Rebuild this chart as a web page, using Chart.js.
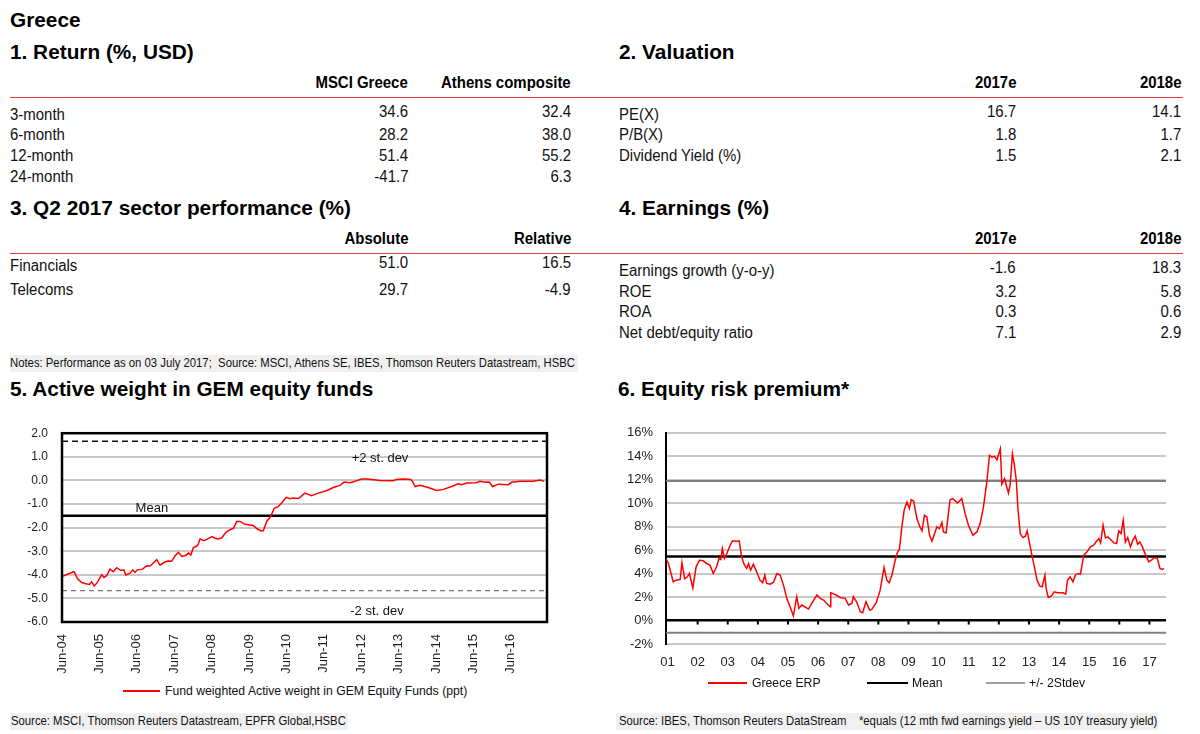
<!DOCTYPE html>
<html><head><meta charset="utf-8">
<script src="https://cdn.jsdelivr.net/npm/chart.js@4.4.1/dist/chart.umd.min.js"></script>
<style>
html,body{margin:0;padding:0;background:#fff;}
body{width:1200px;height:734px;position:relative;overflow:hidden;font-family:"Liberation Sans",Arial,sans-serif;color:#111;}
.t{position:absolute;white-space:pre;line-height:20px;height:20px;}
.title{font-weight:bold;font-size:20.8px;color:#000;}
.hd{font-weight:bold;font-size:16px;color:#000;}
.bd{font-size:16px;color:#111;}
.sm{font-size:13px;color:#111;}
.lg{font-size:13px;color:#111;}
.rule{position:absolute;height:1px;background:#e0403c;}
.box{position:absolute;background:#f0f0f0;}
.ln{position:absolute;height:2px;}
canvas{position:absolute;}
</style></head><body>
<div class="box" style="left:10px;top:355px;width:568px;height:17px"></div>
<div class="box" style="left:10px;top:713px;width:338px;height:17px"></div>
<div class="box" style="left:616px;top:713px;width:542px;height:17px"></div>
<canvas id="c5" width="560" height="263" style="left:0;top:412px"></canvas>
<canvas id="c6" width="600" height="264" style="left:600px;top:412px"></canvas>
<script>
// ---------------- DATA ----------------
const returnCols = ['MSCI Greece', 'Athens composite'];
const returnRows = ['3-month', '6-month', '12-month', '24-month'];
const returnMSCI = ['34.6', '28.2', '51.4', '-41.7'];
const returnAthens = ['32.4', '38.0', '55.2', '6.3'];

const valuationCols = ['2017e', '2018e'];
const valuationRows = ['PE(X)', 'P/B(X)', 'Dividend Yield (%)'];
const valuation2017 = ['16.7', '1.8', '1.5'];
const valuation2018 = ['14.1', '1.7', '2.1'];

const sectorCols = ['Absolute', 'Relative'];
const sectorRows = ['Financials', 'Telecoms'];
const sectorAbs = ['51.0', '29.7'];
const sectorRel = ['16.5', '-4.9'];

const earnCols = ['2017e', '2018e'];
const earnRows = ['Earnings growth (y-o-y)', 'ROE', 'ROA', 'Net debt/equity ratio'];
const earn2017 = ['-1.6', '3.2', '0.3', '7.1'];
const earn2018 = ['18.3', '5.8', '0.6', '2.9'];

// Chart 5: active weight (x in decimal years)
const activeTickLabels = ['Jun-04','Jun-05','Jun-06','Jun-07','Jun-08','Jun-09','Jun-10','Jun-11','Jun-12','Jun-13','Jun-14','Jun-15','Jun-16'];
const activeX = [2004.43,2004.70,2004.74,2004.83,2004.94,2005.06,2005.15,2005.21,2005.28,2005.37,
 2005.48,2005.54,2005.61,2005.70,2005.79,2005.88,2005.99,2006.07,2006.12,2006.24,
 2006.31,2006.37,2006.43,2006.57,2006.68,2006.77,2006.84,2006.95,2007.04,2007.14,
 2007.24,2007.35,2007.44,2007.53,2007.62,2007.72,2007.80,2007.86,2007.93,2008.04,
 2008.11,2008.21,2008.31,2008.43,2008.51,2008.60,2008.69,2008.80,2008.91,2009.00,
 2009.09,2009.18,2009.31,2009.44,2009.53,2009.64,2009.73,2009.80,2009.89,2010.00,
 2010.09,2010.20,2010.29,2010.41,2010.51,2010.60,2010.74,2010.91,2011.09,2011.27,
 2011.49,2011.67,2011.85,2011.96,2012.12,2012.25,2012.43,2012.58,2012.92,2013.28,
 2013.35,2013.54,2013.74,2013.79,2013.86,2013.99,2014.21,2014.43,2014.61,2014.84,
 2015.01,2015.10,2015.24,2015.50,2015.59,2015.73,2015.84,2015.93,2016.08,2016.35,
 2016.44,2016.66,2017.02,2017.20,2017.31];
const activeY = [-4.06,-3.89,-3.87,-4.16,-4.33,-4.38,-4.41,-4.30,-4.47,-4.30,
 -3.99,-4.11,-4.04,-3.76,-3.87,-3.70,-3.82,-3.79,-4.01,-3.93,
 -3.79,-3.90,-3.79,-3.76,-3.62,-3.63,-3.53,-3.36,-3.59,-3.48,
 -3.42,-3.43,-3.19,-3.05,-3.22,-3.18,-3.08,-3.16,-2.85,-2.77,
 -2.48,-2.55,-2.48,-2.38,-2.45,-2.48,-2.43,-2.20,-2.09,-2.03,
 -1.74,-1.74,-1.86,-1.89,-1.91,-2.06,-2.13,-2.13,-1.74,-1.52,
 -1.18,-1.11,-0.96,-0.72,-0.78,-0.75,-0.77,-0.54,-0.65,-0.54,
 -0.44,-0.30,-0.21,-0.07,-0.10,-0.04,0.06,0.06,0.00,-0.01,
 0.04,0.06,0.04,-0.04,-0.26,-0.21,-0.30,-0.43,-0.38,-0.26,
 -0.14,-0.18,-0.11,-0.10,-0.04,-0.08,-0.07,-0.26,-0.16,-0.18,
 -0.08,-0.04,-0.04,0.02,-0.04];
const activeMean = -1.5, activePlus2 = 1.66, activeMinus2 = -4.67;
const activeRange = [2004.417, 2017.385];
const activeNotes = [{text:'+2 st. dev', x:2012.92, y:0.94}, {text:'Mean', x:2006.82, y:-1.19}, {text:'-2 st. dev', x:2012.84, y:-5.57}];

// Chart 6: equity risk premium (%)
const erpTickLabels = ['01','02','03','04','05','06','07','08','09','10','11','12','13','14','15','16','17'];
const erpX = [2000.95,2001.03,2001.11,2001.19,2001.28,2001.42,2001.48,2001.57,2001.66,2001.73,
 2001.84,2001.95,2002.06,2002.19,2002.30,2002.41,2002.52,2002.63,2002.71,2002.77,
 2002.82,2002.89,2002.97,2003.08,2003.16,2003.30,2003.38,2003.46,2003.54,2003.63,
 2003.69,2003.76,2003.85,2003.96,2004.07,2004.16,2004.23,2004.29,2004.41,2004.52,
 2004.63,2004.74,2004.85,2004.96,2005.07,2005.18,2005.29,2005.36,2005.46,2005.68,
 2005.79,2005.96,2006.07,2006.18,2006.29,2006.40,2006.42,2006.56,2006.73,2006.90,
 2007.01,2007.12,2007.17,2007.28,2007.40,2007.48,2007.59,2007.71,2007.78,2007.93,
 2008.06,2008.19,2008.28,2008.36,2008.45,2008.56,2008.64,2008.70,2008.78,2008.86,
 2008.95,2009.03,2009.09,2009.17,2009.28,2009.37,2009.45,2009.53,2009.61,2009.70,
 2009.78,2009.86,2009.94,2010.03,2010.11,2010.16,2010.25,2010.38,2010.47,2010.63,
 2010.77,2010.88,2010.99,2011.14,2011.27,2011.38,2011.49,2011.60,2011.69,2011.77,
 2011.85,2011.94,2011.99,2012.05,2012.10,2012.19,2012.27,2012.32,2012.38,2012.45,
 2012.51,2012.58,2012.63,2012.71,2012.80,2012.88,2012.94,2013.01,2013.10,2013.19,
 2013.27,2013.36,2013.44,2013.53,2013.57,2013.64,2013.74,2013.84,2013.95,2014.13,
 2014.22,2014.28,2014.37,2014.46,2014.54,2014.63,2014.71,2014.82,2014.93,2015.04,
 2015.15,2015.24,2015.32,2015.38,2015.46,2015.54,2015.62,2015.71,2015.82,2015.91,
 2015.98,2016.06,2016.13,2016.20,2016.28,2016.37,2016.45,2016.53,2016.61,2016.68,
 2016.76,2016.83,2016.90,2016.98,2017.06,2017.17,2017.26,2017.35,2017.43,2017.48];
const erpY = [5.29,4.86,4.07,3.30,3.44,3.50,4.92,3.56,3.73,4.01,
 2.79,4.58,5.14,5.09,4.86,4.72,4.01,4.58,5.29,5.20,
 6.14,5.29,5.71,6.42,6.79,6.76,6.79,5.43,4.80,4.44,
 4.86,4.29,4.80,4.15,3.44,3.22,3.87,3.16,3.10,3.27,
 4.01,3.87,3.02,1.89,1.18,0.38,2.03,1.04,1.32,0.98,
 1.46,2.17,1.89,1.75,1.46,1.18,2.37,2.23,1.97,1.89,
 1.32,1.46,2.03,1.60,0.75,0.67,1.60,0.89,0.95,1.52,
 2.59,4.52,3.44,3.22,3.87,5.14,5.85,6.05,7.98,9.45,
 10.10,9.54,10.30,10.19,8.69,8.04,7.64,8.97,8.83,7.27,
 6.76,7.36,7.98,7.84,8.35,7.55,7.47,10.30,10.39,10.02,
 10.39,9.11,8.12,7.27,7.55,8.26,9.68,11.80,14.07,13.93,
 13.99,13.70,14.16,14.64,11.61,12.09,11.32,10.87,11.66,14.21,
 13.36,11.95,9.68,7.41,7.07,7.19,7.64,6.70,5.57,4.44,
 3.44,2.93,2.88,3.87,2.74,1.97,2.08,2.45,2.37,2.37,
 2.25,3.44,3.73,3.30,3.87,4.01,3.95,5.57,5.85,6.28,
 6.42,6.76,6.99,6.62,8.12,7.04,7.13,6.90,6.62,6.56,
 7.64,7.41,8.55,6.70,7.07,6.28,6.85,7.19,6.50,6.70,
 6.33,5.85,5.43,5.00,5.14,5.37,5.29,4.44,4.35,4.44];
const erpMean = 5.45, erpPlus2 = 11.9, erpMinus2 = -1.05;
const erpRange = [2000.95, 2017.55];

// ---------------- LAYOUT HELPERS ----------------
const FONT = '"Liberation Sans", Arial, sans-serif';
const SX = 0.935;
function T(x, y, str, cls, align, scale) {
  const d = document.createElement('div');
  d.className = 't ' + cls;
  d.textContent = str;
  d.style.top = (y - 10) + 'px';
  if (align === 'right') { d.style.right = (1200 - x) + 'px'; d.style.transformOrigin = 'right center'; }
  else { d.style.left = x + 'px'; d.style.transformOrigin = 'left center'; }
  if (scale) d.style.transform = 'scaleX(' + scale + ')';
  document.body.appendChild(d);
}
function rule(x1, x2, y) {
  const d = document.createElement('div'); d.className = 'rule';
  d.style.left = x1 + 'px'; d.style.width = (x2 - x1) + 'px'; d.style.top = y + 'px';
  document.body.appendChild(d);
}
function legendLine(x1, x2, y, color) {
  const d = document.createElement('div'); d.className = 'ln';
  d.style.left = x1 + 'px'; d.style.width = (x2 - x1) + 'px'; d.style.top = (y - 1) + 'px'; d.style.background = color;
  document.body.appendChild(d);
}
function table(labelX, colRights, headY, rowYs, cols, rows, v1, v2) {
  T(colRights[0], headY, cols[0], 'hd', 'right', SX);
  T(colRights[1], headY, cols[1], 'hd', 'right', SX);
  rows.forEach((r, i) => {
    T(labelX, rowYs[i], r, 'bd', 'left', SX);
    const vy = rowYs[i] - (i === 0 ? 3 : 0);
    T(colRights[0], vy, v1[i], 'bd', 'right', SX);
    T(colRights[1], vy, v2[i], 'bd', 'right', SX);
  });
}

T(10, 20, 'Greece', 'title', 'left');
T(10, 52, '1. Return (%, USD)', 'title', 'left');
T(619, 52, '2. Valuation', 'title', 'left');
rule(10, 1183, 97);
table(10, [408, 571], 83, [115, 135, 156, 177], returnCols, returnRows, returnMSCI, returnAthens);
table(619, [1016, 1181], 83, [115, 135, 156], valuationCols, valuationRows, valuation2017, valuation2018);

T(10, 208, '3. Q2 2017 sector performance (%)', 'title', 'left');
T(619, 208, '4. Earnings (%)', 'title', 'left');
rule(10, 1183, 253);
table(10, [408, 571], 239, [266, 290], sectorCols, sectorRows, sectorAbs, sectorRel);
table(619, [1016, 1181], 239, [271, 291.5, 312, 333], earnCols, earnRows, earn2017, earn2018);
T(10, 363, 'Notes: Performance as on 03 July 2017;  Source: MSCI, Athens SE, IBES, Thomson Reuters Datastream, HSBC', 'sm', 'left', 0.87);

T(10, 389, '5. Active weight in GEM equity funds', 'title', 'left');
T(618, 389, '6. Equity risk premium*', 'title', 'left');

legendLine(123, 160, 691, '#ff0000');
T(165, 691, 'Fund weighted Active weight in GEM Equity Funds (ppt)', 'lg', 'left', 0.94);
T(11, 721, 'Source: MSCI, Thomson Reuters Datastream, EPFR Global,HSBC', 'sm', 'left', 0.87);

legendLine(708, 747, 683, '#ff0000');
T(752, 683, 'Greece ERP', 'lg', 'left', 0.94);
legendLine(867, 908, 683, '#000000');
T(912, 683, 'Mean', 'lg', 'left', 0.94);
legendLine(986, 1025, 683, '#a0a0a0');
T(1029, 683, '+/- 2Stdev', 'lg', 'left', 0.94);
T(619, 721, 'Source: IBES, Thomson Reuters DataStream    *equals (12 mth fwd earnings yield \u2013 US 10Y treasury yield)', 'sm', 'left', 0.87);

// ---------------- CHARTS ----------------
Chart.defaults.font.family = FONT;
Chart.defaults.color = '#222';

const hline = (range, v) => [{x: range[0], y: v}, {x: range[1], y: v}];

const frame5 = {
  id: 'frame5',
  afterDatasetsDraw(chart) {
    const {ctx, chartArea: a, scales} = chart;
    ctx.save();
    ctx.strokeStyle = '#000'; ctx.lineWidth = 2.5;
    ctx.strokeRect(a.left, a.top, a.right - a.left, a.bottom - a.top);
    ctx.fillStyle = '#111'; ctx.font = '13px ' + FONT;
    ctx.textAlign = 'center'; ctx.textBaseline = 'middle';
    activeNotes.forEach(n => ctx.fillText(n.text, scales.x.getPixelForValue(n.x), scales.y.getPixelForValue(n.y)));
    ctx.restore();
  }
};

new Chart(document.getElementById('c5'), {
  type: 'line',
  data: { datasets: [
    { label: 'Fund weighted Active weight in GEM Equity Funds (ppt)', data: activeX.map((x, i) => ({x, y: activeY[i]})),
      borderColor: '#ff0000', borderWidth: 1.5, pointRadius: 0, tension: 0 },
    { label: 'Mean', data: hline(activeRange, activeMean), borderColor: '#000', borderWidth: 2.5, pointRadius: 0 },
    { label: '+2 st. dev', data: hline(activeRange, activePlus2), borderColor: '#111', borderWidth: 1.4, borderDash: [6, 4], pointRadius: 0 },
    { label: '-2 st. dev', data: hline(activeRange, activeMinus2), borderColor: '#777', borderWidth: 1.4, borderDash: [5, 4], pointRadius: 0 }
  ]},
  options: {
    responsive: false, animation: false, devicePixelRatio: 1,
    layout: { padding: { top: 4, right: 13, left: 0, bottom: 0 } },
    plugins: { legend: { display: false }, tooltip: { enabled: false } },
    scales: {
      x: { type: 'linear', min: activeRange[0], max: activeRange[1],
        afterBuildTicks: s => { s.ticks = activeTickLabels.map(l => ({ value: 2000 + parseInt(l.slice(4), 10) + 5 / 12 })); },
        afterFit: s => { s.height = 53; },
        grid: { display: false }, border: { display: false },
        ticks: { autoSkip: false, minRotation: 90, maxRotation: 90, padding: 4, color: '#222', font: { size: 13 },
          callback: (v, i) => activeTickLabels[i] } },
      y: { min: -6, max: 2, afterFit: s => { s.width = 62; },
        grid: { color: '#c8c8c8', lineWidth: 2, drawTicks: false }, border: { display: false },
        ticks: { stepSize: 1, padding: 14, color: '#222', font: { size: 12 }, callback: v => v.toFixed(1) } }
    }
  },
  plugins: [frame5]
});

const ticks6 = {
  id: 'ticks6',
  afterDatasetsDraw(chart) {
    const {ctx, scales} = chart;
    const y0 = scales.y.getPixelForValue(0);
    ctx.save(); ctx.strokeStyle = '#000'; ctx.lineWidth = 2;
    erpTickLabels.slice(1).forEach(l => {
      const px = scales.x.getPixelForValue(2000 + parseInt(l, 10));
      ctx.beginPath(); ctx.moveTo(px, y0); ctx.lineTo(px, y0 + 4); ctx.stroke();
    });
    ctx.restore();
  }
};

new Chart(document.getElementById('c6'), {
  type: 'line',
  data: { datasets: [
    { label: 'Greece ERP', data: erpX.map((x, i) => ({x, y: erpY[i]})), borderColor: '#ff0000', borderWidth: 1.5, pointRadius: 0, tension: 0 },
    { label: 'Mean', data: hline(erpRange, erpMean), borderColor: '#000', borderWidth: 2.5, pointRadius: 0 },
    { label: '+/- 2Stdev', data: hline(erpRange, erpPlus2), borderColor: '#808080', borderWidth: 2, pointRadius: 0 },
    { label: '-2Stdev', data: hline(erpRange, erpMinus2), borderColor: '#808080', borderWidth: 2, pointRadius: 0 }
  ]},
  options: {
    responsive: false, animation: false, devicePixelRatio: 1,
    layout: { padding: { top: 4, right: 34, left: 0, bottom: 0 } },
    plugins: { legend: { display: false }, tooltip: { enabled: false } },
    scales: {
      x: { type: 'linear', min: erpRange[0], max: erpRange[1],
        afterBuildTicks: s => { s.ticks = erpTickLabels.map(l => ({ value: 2000 + parseInt(l, 10) })); },
        afterFit: s => { s.height = 32; },
        grid: { display: false }, border: { display: false },
        ticks: { autoSkip: false, maxRotation: 0, minRotation: 0, padding: 3, color: '#222', font: { size: 13 },
          callback: (v, i) => erpTickLabels[i] } },
      y: { min: -2, max: 16, afterFit: s => { s.width = 66; },
        grid: { color: c => (c.tick && c.tick.value === 0) ? '#000' : '#c8c8c8',
                lineWidth: c => (c.tick && c.tick.value === 0) ? 2.5 : 2, drawTicks: false },
        border: { display: true, color: '#000', width: 2 },
        ticks: { stepSize: 2, padding: 13, color: '#222', font: { size: 13 }, callback: v => v + '%' } }
    }
  },
  plugins: [ticks6]
});
</script>
</body></html>
